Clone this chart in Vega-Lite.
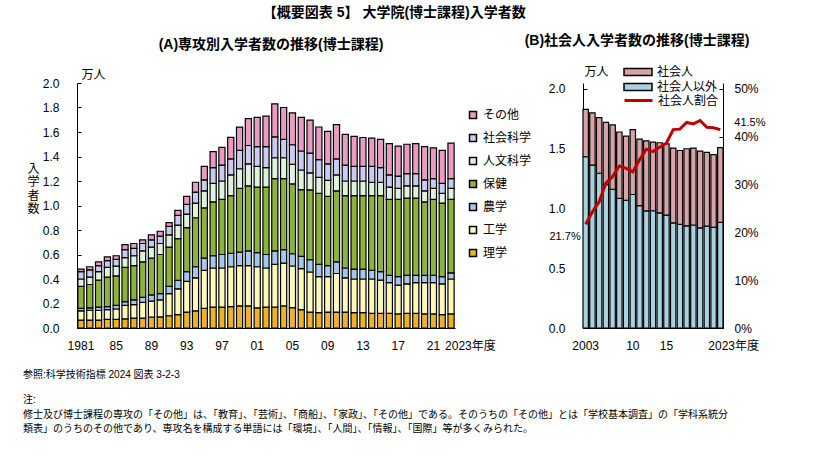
{
  "$schema": "https://vega.github.io/schema/vega-lite/v6.json",
  "padding": {"left": 22, "top": 6, "right": 0, "bottom": 0},
  "background": "white",
  "title": {"text": "【概要図表 5】 大学院(博士課程)入学者数", "fontSize": 14, "fontWeight": "bold", "anchor": "middle", "color": "black", "offset": 14},
  "datasets": {
    "fields": [
      {"year": 1981, "理学": 0.065, "工学": 0.075, "農学": 0.02, "保健": 0.18, "人文科学": 0.06, "社会科学": 0.06, "その他": 0.02},
      {"year": 1982, "理学": 0.065, "工学": 0.08, "農学": 0.02, "保健": 0.19, "人文科学": 0.06, "社会科学": 0.06, "その他": 0.025},
      {"year": 1983, "理学": 0.065, "工学": 0.08, "農学": 0.025, "保健": 0.22, "人文科学": 0.07, "社会科学": 0.05, "その他": 0.03},
      {"year": 1984, "理学": 0.07, "工学": 0.08, "農学": 0.025, "保健": 0.24, "人文科学": 0.08, "社会科学": 0.055, "その他": 0.03},
      {"year": 1985, "理学": 0.07, "工学": 0.085, "農学": 0.03, "保健": 0.24, "人文科学": 0.08, "社会科学": 0.055, "その他": 0.03},
      {"year": 1986, "理学": 0.075, "工学": 0.11, "農学": 0.03, "保健": 0.28, "人文科学": 0.08, "社会科学": 0.065, "その他": 0.04},
      {"year": 1987, "理学": 0.08, "工学": 0.11, "農学": 0.04, "保健": 0.28, "人文科学": 0.08, "社会科学": 0.06, "その他": 0.04},
      {"year": 1988, "理学": 0.08, "工学": 0.13, "農学": 0.04, "保健": 0.29, "人文科学": 0.09, "社会科学": 0.06, "その他": 0.03},
      {"year": 1989, "理学": 0.09, "工学": 0.13, "農学": 0.05, "保健": 0.30, "人文科学": 0.09, "社会科学": 0.06, "その他": 0.04},
      {"year": 1990, "理学": 0.09, "工学": 0.14, "農学": 0.05, "保健": 0.32, "人文科学": 0.09, "社会科学": 0.06, "その他": 0.04},
      {"year": 1991, "理学": 0.10, "工学": 0.18, "農学": 0.06, "保健": 0.32, "人文科学": 0.10, "社会科学": 0.07, "その他": 0.03},
      {"year": 1992, "理学": 0.11, "工学": 0.21, "農学": 0.07, "保健": 0.34, "人文科学": 0.11, "社会科学": 0.08, "その他": 0.04},
      {"year": 1993, "理学": 0.13, "工学": 0.25, "農学": 0.08, "保健": 0.36, "人文科学": 0.11, "社会科学": 0.08, "その他": 0.065},
      {"year": 1994, "理学": 0.14, "工学": 0.27, "農学": 0.09, "保健": 0.40, "人文科学": 0.12, "社会科学": 0.09, "その他": 0.08},
      {"year": 1995, "理学": 0.16, "工学": 0.31, "農学": 0.10, "保健": 0.41, "人文科学": 0.14, "社会科学": 0.09, "その他": 0.11},
      {"year": 1996, "理学": 0.17, "工学": 0.32, "農学": 0.10, "保健": 0.44, "人文科学": 0.15, "社会科学": 0.13, "その他": 0.13},
      {"year": 1997, "理学": 0.17, "工学": 0.32, "農学": 0.11, "保健": 0.45, "人文科学": 0.15, "社会科学": 0.13, "その他": 0.145},
      {"year": 1998, "理学": 0.175, "工学": 0.325, "農学": 0.11, "保健": 0.47, "人文科学": 0.17, "社会科学": 0.13, "その他": 0.176},
      {"year": 1999, "理学": 0.18, "工学": 0.33, "農学": 0.11, "保健": 0.52, "人文科学": 0.16, "社会科学": 0.15, "その他": 0.19},
      {"year": 2000, "理学": 0.18, "工学": 0.33, "農学": 0.12, "保健": 0.53, "人文科学": 0.18, "社会科学": 0.15, "その他": 0.22},
      {"year": 2001, "理学": 0.165, "工学": 0.335, "農学": 0.115, "保健": 0.535, "人文科学": 0.17, "社会科学": 0.16, "その他": 0.24},
      {"year": 2002, "理学": 0.17, "工学": 0.32, "農学": 0.11, "保健": 0.55, "人文科学": 0.16, "社会科学": 0.17, "その他": 0.25},
      {"year": 2003, "理学": 0.17, "工学": 0.35, "農学": 0.11, "保健": 0.59, "人文科学": 0.17, "社会科学": 0.17, "その他": 0.27},
      {"year": 2004, "理学": 0.18, "工学": 0.35, "農学": 0.11, "保健": 0.58, "人文科学": 0.17, "社会科学": 0.15, "その他": 0.26},
      {"year": 2005, "理学": 0.166, "工学": 0.34, "農学": 0.10, "保健": 0.57, "人文科学": 0.16, "社会科学": 0.16, "その他": 0.26},
      {"year": 2006, "理学": 0.15, "工学": 0.335, "農学": 0.10, "保健": 0.545, "人文科学": 0.16, "社会科学": 0.155, "その他": 0.275},
      {"year": 2007, "理学": 0.13, "工学": 0.327, "農学": 0.10, "保健": 0.57, "人文科学": 0.14, "社会科学": 0.16, "その他": 0.27},
      {"year": 2008, "理学": 0.125, "工学": 0.295, "農学": 0.10, "保健": 0.58, "人文科学": 0.13, "社会科学": 0.145, "その他": 0.266},
      {"year": 2009, "理学": 0.13, "工学": 0.29, "農学": 0.09, "保健": 0.565, "人文科学": 0.13, "社会科学": 0.135, "その他": 0.265},
      {"year": 2010, "理学": 0.13, "工学": 0.315, "農学": 0.095, "保健": 0.58, "人文科学": 0.13, "社会科学": 0.13, "その他": 0.28},
      {"year": 2011, "理学": 0.13, "工学": 0.28, "農学": 0.08, "保健": 0.59, "人文科学": 0.12, "社会科学": 0.13, "その他": 0.25},
      {"year": 2012, "理学": 0.125, "工学": 0.275, "農学": 0.08, "保健": 0.60, "人文科学": 0.12, "社会科学": 0.12, "その他": 0.245},
      {"year": 2013, "理学": 0.125, "工学": 0.275, "農学": 0.08, "保健": 0.60, "人文科学": 0.12, "社会科学": 0.12, "その他": 0.235},
      {"year": 2014, "理学": 0.12, "工学": 0.28, "農学": 0.07, "保健": 0.61, "人文科学": 0.11, "社会科学": 0.13, "その他": 0.23},
      {"year": 2015, "理学": 0.12, "工学": 0.27, "農学": 0.07, "保健": 0.62, "人文科学": 0.11, "社会科学": 0.12, "その他": 0.23},
      {"year": 2016, "理学": 0.12, "工学": 0.25, "農学": 0.06, "保健": 0.62, "人文科学": 0.10, "社会科学": 0.10, "その他": 0.255},
      {"year": 2017, "理学": 0.115, "工学": 0.235, "農学": 0.07, "保健": 0.63, "人文科学": 0.09, "社会科学": 0.10, "その他": 0.245},
      {"year": 2018, "理学": 0.12, "工学": 0.24, "農学": 0.07, "保健": 0.63, "人文科学": 0.10, "社会科学": 0.10, "その他": 0.24},
      {"year": 2019, "理学": 0.12, "工学": 0.25, "農学": 0.06, "保健": 0.63, "人文科学": 0.10, "社会科学": 0.10, "その他": 0.245},
      {"year": 2020, "理学": 0.115, "工学": 0.255, "農学": 0.06, "保健": 0.60, "人文科学": 0.09, "社会科学": 0.09, "その他": 0.27},
      {"year": 2021, "理学": 0.115, "工学": 0.255, "農学": 0.06, "保健": 0.62, "人文科学": 0.09, "社会科学": 0.08, "その他": 0.25},
      {"year": 2022, "理学": 0.11, "工学": 0.25, "農学": 0.06, "保健": 0.60, "人文科学": 0.08, "社会科学": 0.08, "その他": 0.27},
      {"year": 2023, "理学": 0.115, "工学": 0.285, "農学": 0.05, "保健": 0.60, "人文科学": 0.09, "社会科学": 0.08, "その他": 0.29}
    ],
    "shakai": [
      {"year": 2003, "社会人以外": 1.433, "社会人": 0.397, "ratio": 0.217},
      {"year": 2004, "社会人以外": 1.363, "社会人": 0.437, "ratio": 0.243},
      {"year": 2005, "社会人以外": 1.295, "社会人": 0.465, "ratio": 0.264},
      {"year": 2006, "社会人以外": 1.199, "社会人": 0.521, "ratio": 0.303},
      {"year": 2007, "社会人以外": 1.161, "社会人": 0.539, "ratio": 0.317},
      {"year": 2008, "社会人以外": 1.084, "社会人": 0.556, "ratio": 0.339},
      {"year": 2009, "社会人以外": 1.069, "社会人": 0.536, "ratio": 0.334},
      {"year": 2010, "社会人以外": 1.117, "社会人": 0.543, "ratio": 0.327},
      {"year": 2011, "社会人以外": 1.024, "社会人": 0.556, "ratio": 0.352},
      {"year": 2012, "社会人以外": 0.980, "社会人": 0.585, "ratio": 0.374},
      {"year": 2013, "社会人以外": 0.981, "社会人": 0.574, "ratio": 0.369},
      {"year": 2014, "社会人以外": 0.964, "社会人": 0.586, "ratio": 0.378},
      {"year": 2015, "社会人以外": 0.944, "社会人": 0.596, "ratio": 0.387},
      {"year": 2016, "社会人以外": 0.880, "社会人": 0.625, "ratio": 0.415},
      {"year": 2017, "社会人以外": 0.867, "社会人": 0.618, "ratio": 0.416},
      {"year": 2018, "社会人以外": 0.855, "社会人": 0.645, "ratio": 0.430},
      {"year": 2019, "社会人以外": 0.862, "社会人": 0.643, "ratio": 0.427},
      {"year": 2020, "社会人以外": 0.838, "社会人": 0.642, "ratio": 0.434},
      {"year": 2021, "社会人以外": 0.853, "社会人": 0.617, "ratio": 0.420},
      {"year": 2022, "社会人以外": 0.842, "社会人": 0.608, "ratio": 0.419},
      {"year": 2023, "社会人以外": 0.883, "社会人": 0.627, "ratio": 0.415}
    ]
  },
  "vconcat": [
    {
      "title": {
        "text": "参照:科学技術指標 2024 図表 3-2-3",
        "subtitle": ["注:", "修士及び博士課程の専攻の「その他」は、「教育」、「芸術」、「商船」、「家政」、「その他」である。そのうちの「その他」とは「学校基本調査」の「学科系統分", "類表」のうちのその他であり、専攻名を構成する単語には「環境」、「人間」、「情報」、「国際」等が多くみられた。"],
        "orient": "bottom", "anchor": "start", "fontSize": 10, "fontWeight": "normal", "color": "black", "offset": 19, "dx": -4,
        "subtitleFontSize": 10, "subtitleColor": "black", "subtitleLineHeight": 14.5, "subtitlePadding": 15, "subtitleFontWeight": "normal"
      },
      "bounds": "flush",
      "spacing": 128,
      "resolve": {"scale": {"fill": "independent", "stroke": "independent"}, "legend": {"fill": "independent", "stroke": "independent"}},
      "hconcat": [
        {
          "width": 378,
          "height": 245,
          "title": {"text": "(A)専攻別入学者数の推移(博士課程)", "frame": "group", "anchor": "middle", "dx": 5, "fontSize": 14, "fontWeight": "bold", "color": "black", "offset": 16},
          "data": {"name": "fields"},
          "transform": [
            {"fold": ["理学", "工学", "農学", "保健", "人文科学", "社会科学", "その他"], "as": ["field", "value"]},
            {"calculate": "indexof(['理学','工学','農学','保健','人文科学','社会科学','その他'], datum.field)", "as": "ord"}
          ],
          "mark": {"type": "bar", "stroke": "black", "strokeWidth": 1.2},
          "encoding": {
            "x": {
              "field": "year", "type": "ordinal",
              "scale": {"paddingInner": 0.3, "paddingOuter": 0.1},
              "axis": {
                "title": "万人", "titleX": 4, "titleY": -254, "titleAlign": "left", "titleAngle": 0, "titleBaseline": "middle", "titleFontWeight": "normal", "titleFontSize": 12,
                "labelAngle": 0, "labelOverlap": false, "ticks": false, "labelPadding": 12, "labelFontSize": 12,
                "labelExpr": "datum.value == 1981 ? '1981' : datum.value == 2023 ? '2023年度' : ((datum.value - 1981) % 4 == 0 ? ((datum.value % 100 < 10 ? '0' : '') + (datum.value % 100)) : '')",
                "labelAlign": {"condition": {"test": "datum.value == 2023", "value": "left"}, "value": "center"},
                "labelOffset": {"condition": {"test": "datum.value == 2023", "value": -6}, "value": 0}
              }
            },
            "y": {
              "field": "value", "type": "quantitative", "stack": "zero",
              "scale": {"domain": [0, 2], "nice": false},
              "axis": {
                "title": ["入", "学", "者", "数"], "titleAngle": 0, "titleX": -44, "titleY": 80, "titleAlign": "center", "titleBaseline": "top", "titleLineHeight": 13.5, "titleFontWeight": "normal", "titleFontSize": 12,
                "values": [0, 0.2, 0.4, 0.6, 0.8, 1.0, 1.2, 1.4, 1.6, 1.8, 2.0], "format": ".1f", "tickSize": -4, "labelPadding": 22, "labelFontSize": 12
              }
            },
            "fill": {
              "field": "field", "type": "nominal",
              "scale": {"domain": ["その他", "社会科学", "人文科学", "保健", "農学", "工学", "理学"], "range": ["#E99BC4", "#C9CBF0", "#DDF2DA", "#8CB43C", "#A3C8EC", "#FFF7B8", "#EDB22A"]},
              "legend": {"title": null, "orient": "none", "legendX": 390, "legendY": 26, "symbolType": "square", "symbolSize": 49, "symbolStrokeColor": "black", "symbolStrokeWidth": 1.5, "labelFontSize": 12, "rowPadding": 9, "labelOffset": 4, "padding": 0}
            },
            "order": {"field": "ord", "type": "quantitative"}
          }
        },
        {
          "width": 140,
          "height": 245,
          "title": {"text": "(B)社会人入学者数の推移(博士課程)", "frame": "group", "anchor": "middle", "dx": -16, "fontSize": 14, "fontWeight": "bold", "color": "black", "offset": 16},
          "data": {"name": "shakai"},
          "layer": [
            {
              "transform": [{"fold": ["社会人以外", "社会人"], "as": ["type", "count"]}],
              "mark": {"type": "bar", "stroke": "black", "strokeWidth": 1.2},
              "encoding": {
                "x": {
                  "field": "year", "type": "ordinal",
                  "scale": {"paddingInner": 0.2, "paddingOuter": 0},
                  "axis": {
                    "title": "万人", "titleX": 1, "titleY": -257, "titleAlign": "left", "titleAngle": 0, "titleBaseline": "middle", "titleFontWeight": "normal", "titleFontSize": 12,
                    "labelAngle": 0, "labelOverlap": false, "ticks": false, "labelPadding": 12, "labelFontSize": 12,
                    "labelExpr": "datum.value == 2003 ? '2003' : datum.value == 2023 ? '2023年度' : datum.value == 2010 ? '10' : datum.value == 2015 ? '15' : ''",
                    "labelAlign": {"condition": {"test": "datum.value == 2023", "value": "left"}, "value": "center"},
                    "labelOffset": {"condition": {"test": "datum.value == 2023", "value": -12}, "value": 0}
                  }
                },
                "y": {
                  "field": "count", "type": "quantitative", "stack": "zero",
                  "scale": {"domain": [0, 2.05], "nice": false},
                  "axis": {"title": null, "values": [0, 0.5, 1.0, 1.5, 2.0], "format": ".1f", "tickSize": -4, "labelPadding": 22, "labelFontSize": 12}
                },
                "fill": {
                  "field": "type", "type": "nominal",
                  "scale": {"domain": ["社会人", "社会人以外"], "range": ["#D7A3A6", "#A7D3E0"]},
                  "legend": {"title": null, "orient": "none", "legendX": 47, "legendY": -19, "symbolType": "M-2,-0.5H2V0.5H-2Z", "symbolSize": 196, "symbolStrokeColor": "black", "symbolStrokeWidth": 1.5, "labelFontSize": 12, "rowPadding": 0, "labelOffset": 11, "padding": 0}
                },
                "order": {"field": "type", "type": "ordinal", "sort": "descending"}
              }
            },
            {
              "layer": [
                {
                  "mark": {"type": "line", "strokeWidth": 3},
                  "encoding": {
                    "x": {"field": "year", "type": "ordinal"},
                    "y": {
                      "field": "ratio", "type": "quantitative",
                      "scale": {"domain": [0, 0.5125], "nice": false},
                      "axis": {"orient": "right", "title": null, "values": [0, 0.1, 0.2, 0.3, 0.4, 0.5], "format": ".0%", "tickSize": -4, "labelPadding": 15, "labelFontSize": 12}
                    },
                    "stroke": {
                      "datum": "社会人割合", "type": "nominal",
                      "scale": {"domain": ["社会人割合"], "range": ["#C00000"]},
                      "legend": {"title": null, "orient": "none", "legendX": 47, "legendY": 9, "symbolType": "M-2,0H2", "symbolSize": 196, "symbolStrokeWidth": 3, "labelFontSize": 12, "labelOffset": 11, "padding": 0}
                    }
                  }
                },
                {
                  "transform": [{"filter": "datum.year == 2003"}],
                  "mark": {"type": "text", "align": "right", "dx": -5, "dy": 13, "fontSize": 11, "color": "black"},
                  "encoding": {
                    "x": {"field": "year", "type": "ordinal"},
                    "y": {"field": "ratio", "type": "quantitative"},
                    "text": {"field": "ratio", "type": "quantitative", "format": ".1%"}
                  }
                },
                {
                  "transform": [{"filter": "datum.year == 2023"}],
                  "mark": {"type": "text", "align": "left", "dx": 14, "dy": -7, "fontSize": 11, "color": "black"},
                  "encoding": {
                    "x": {"field": "year", "type": "ordinal"},
                    "y": {"field": "ratio", "type": "quantitative"},
                    "text": {"field": "ratio", "type": "quantitative", "format": ".1%"}
                  }
                }
              ]
            }
          ],
          "resolve": {"scale": {"y": "independent"}}
        }
      ]
    }
  ],
  "config": {
    "font": "Liberation Sans, Noto Sans CJK JP",
    "view": {"stroke": null},
    "axis": {"labelColor": "black", "domainColor": "black", "tickColor": "black", "grid": false, "titleColor": "black", "domainWidth": 1}
  }
}
